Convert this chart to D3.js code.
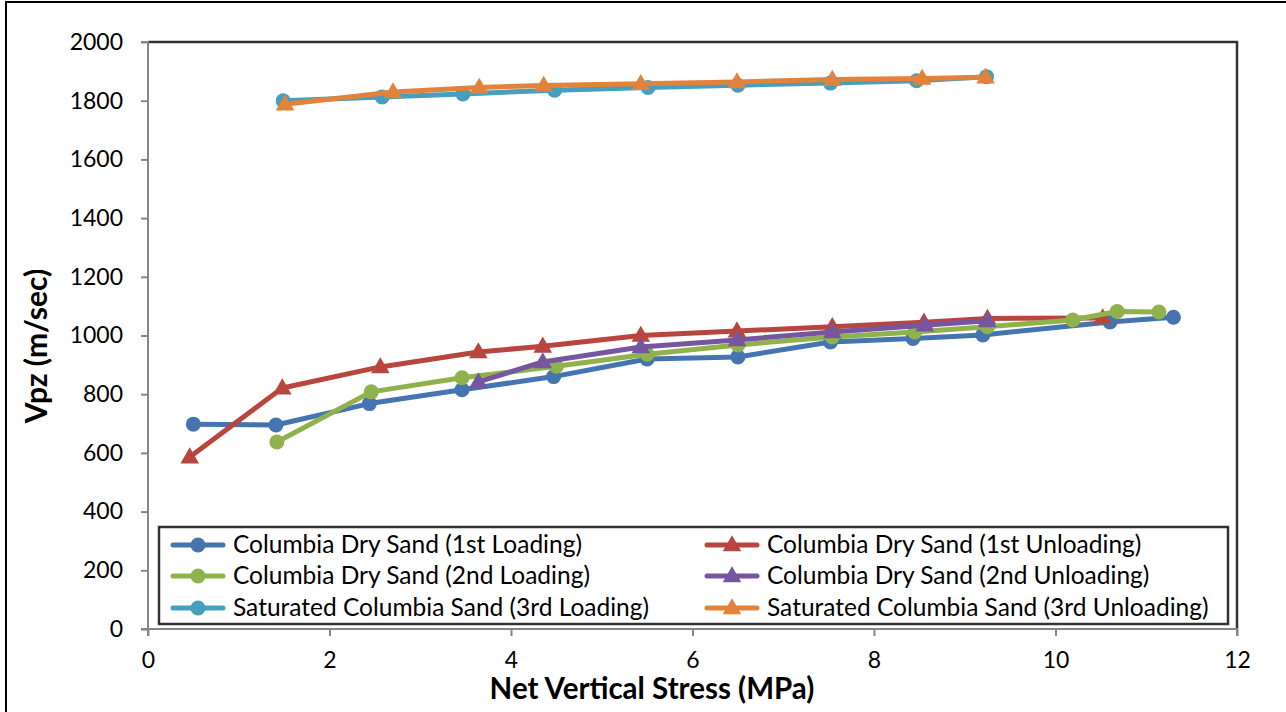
<!DOCTYPE html>
<html>
<head>
<meta charset="utf-8">
<title>Vpz vs Net Vertical Stress</title>
<script src="https://cdnjs.cloudflare.com/ajax/libs/d3/7.8.5/d3.min.js"></script>
<style>
  body { margin: 0; background: #fff; }
  text { font-family: Lato, "Open Sans", sans-serif; fill: #000; }
</style>
</head>
<body>
<script>
// data
var seriesNames = [
  "Columbia Dry Sand (1st Loading)",
  "Columbia Dry Sand (1st Unloading)",
  "Columbia Dry Sand (2nd Loading)",
  "Columbia Dry Sand (2nd Unloading)",
  "Saturated Columbia Sand (3rd Loading)",
  "Saturated Columbia Sand (3rd Unloading)"
];
var load1X = [0.5, 1.41, 2.44, 3.46, 4.47, 5.5, 6.5, 7.52, 8.43, 9.2, 10.6, 11.3];
var load1Y = [698, 695, 768, 815, 860, 920, 927, 978, 990, 1002, 1046, 1062];
var unload1X = [0.46, 1.48, 2.56, 3.64, 4.35, 5.43, 6.49, 7.54, 8.55, 9.25, 10.52];
var unload1Y = [586, 821, 893, 944, 963, 1000, 1015, 1030, 1045, 1058, 1060];
var load2X = [1.42, 2.46, 3.46, 4.5, 5.5, 6.5, 7.54, 8.45, 9.25, 10.19, 10.68, 11.14];
var load2Y = [637, 808, 856, 895, 936, 968, 995, 1012, 1030, 1053, 1082, 1080];
var unload2X = [3.64, 4.35, 5.43, 6.49, 7.54, 8.56, 9.25];
var unload2Y = [842, 910, 961, 985, 1012, 1035, 1050];
var load3X = [1.49, 2.58, 3.47, 4.48, 5.51, 6.5, 7.52, 8.47, 9.24];
var load3Y = [1800, 1813, 1823, 1836, 1845, 1853, 1860, 1868, 1882];
var unload3X = [1.51, 2.7, 3.65, 4.36, 5.43, 6.49, 7.54, 8.53, 9.23];
var unload3Y = [1788, 1830, 1845, 1852, 1858, 1864, 1872, 1876, 1880];
var xTicks = [0, 2, 4, 6, 8, 10, 12];
var yTicks = [0, 200, 400, 600, 800, 1000, 1200, 1400, 1600, 1800, 2000];

var colors = ["#4575b0", "#b8463f", "#8fb24c", "#7656a0", "#459fbd", "#e3823a"];
var shapes = ["circle", "triangle", "circle", "triangle", "circle", "triangle"];
var xsAll = [load1X, unload1X, load2X, unload2X, load3X, unload3X];
var ysAll = [load1Y, unload1Y, load2Y, unload2Y, load3Y, unload3Y];

var W = 1286, H = 712;
var pLeft = 148, pRight = 1237, pTop = 42, pBottom = 629;

var svg = d3.select("body").append("svg")
    .attr("width", W)
    .attr("height", H);

// outer chart border
svg.append("rect")
    .attr("x", 6).attr("y", 2)
    .attr("width", W + 10).attr("height", H + 10)
    .attr("fill", "#fff")
    .attr("stroke", "#000")
    .attr("stroke-width", 2);

var x = d3.scaleLinear().domain([0, 12]).range([pLeft, pRight]);
var y = d3.scaleLinear().domain([0, 2000]).range([pBottom, pTop]);

// plot frame (top & right)
var frame = "M" + pLeft + "," + pTop + "H" + pRight + "V" + pBottom;
svg.append("path").attr("d", frame)
    .attr("fill", "none").attr("stroke", "#999").attr("stroke-width", 3);
svg.append("path").attr("d", frame)
    .attr("fill", "none").attr("stroke", "#111").attr("stroke-width", 1.5);

var yAxis = d3.axisLeft(y).tickValues(yTicks).tickSize(7).tickPadding(18)
    .tickFormat(d3.format("d"));
var xAxis = d3.axisBottom(x).tickValues(xTicks).tickSize(7).tickPadding(16);

var gy = svg.append("g").attr("transform", "translate(" + pLeft + ",0)").call(yAxis);
var gx = svg.append("g").attr("transform", "translate(0," + pBottom + ")").call(xAxis);
[gy, gx].forEach(function (g) {
  g.select(".domain").attr("stroke", "#868686").attr("stroke-width", 2);
  g.selectAll(".tick line").attr("stroke", "#868686").attr("stroke-width", 2);
  g.selectAll(".tick text").style("font-size", "23px").attr("fill", "#000");
});
gx.select(".domain").attr("d", "M" + pLeft + ",7V0H" + pRight + "V7");
gy.select(".domain").attr("d", "M-7," + pTop + "H0V" + pBottom + "H-7");

// axis titles
svg.append("text")
    .attr("x", 652).attr("y", 699)
    .attr("text-anchor", "middle")
    .style("font-size", "29.5px").style("font-weight", "bold")
    .text("Net Vertical Stress (MPa)");
svg.append("text")
    .attr("transform", "translate(47,346) rotate(-90)")
    .attr("text-anchor", "middle")
    .style("font-size", "30px").style("font-weight", "bold")
    .text("Vpz (m/sec)");

var line = d3.line();
var tri = d3.symbol().type(d3.symbolTriangle).size(150);

function drawMarker(g, shape, px, py, col) {
  if (shape === "circle") {
    g.append("circle").attr("cx", px).attr("cy", py).attr("r", 7.5).attr("fill", col);
  } else {
    g.append("path").attr("d", tri).attr("transform", "translate(" + px + "," + (py + 1) + ")").attr("fill", col);
  }
}

xsAll.forEach(function (xs, i) {
  var pts = xs.map(function (v, j) { return [x(v), y(ysAll[i][j])]; });
  var g = svg.append("g");
  g.append("path")
      .attr("d", line(pts))
      .attr("fill", "none")
      .attr("stroke", colors[i])
      .attr("stroke-width", 5)
      .attr("stroke-linejoin", "round");
  pts.forEach(function (p) { drawMarker(g, shapes[i], p[0], p[1], colors[i]); });
});

// legend
var lg = svg.append("g");
lg.append("rect")
    .attr("x", 159).attr("y", 527)
    .attr("width", 1069).attr("height", 97)
    .attr("fill", "#fff")
    .attr("stroke", "#999").attr("stroke-width", 3);
lg.append("rect")
    .attr("x", 159).attr("y", 527)
    .attr("width", 1069).attr("height", 97)
    .attr("fill", "none")
    .attr("stroke", "#111").attr("stroke-width", 1.5);

var colX = [173, 707];
var rowY = [545, 576, 608];
seriesNames.forEach(function (name, i) {
  var cx = colX[i % 2], cy = rowY[Math.floor(i / 2)];
  lg.append("line")
      .attr("x1", cx).attr("x2", cx + 50)
      .attr("y1", cy).attr("y2", cy)
      .attr("stroke", colors[i]).attr("stroke-width", 5)
      .attr("stroke-linecap", "round");
  drawMarker(lg, shapes[i], cx + 25, cy, colors[i]);
  lg.append("text")
      .attr("x", cx + 60).attr("y", cy + 8)
      .style("font-size", "24.5px")
      .text(name);
});
</script>
</body>
</html>
